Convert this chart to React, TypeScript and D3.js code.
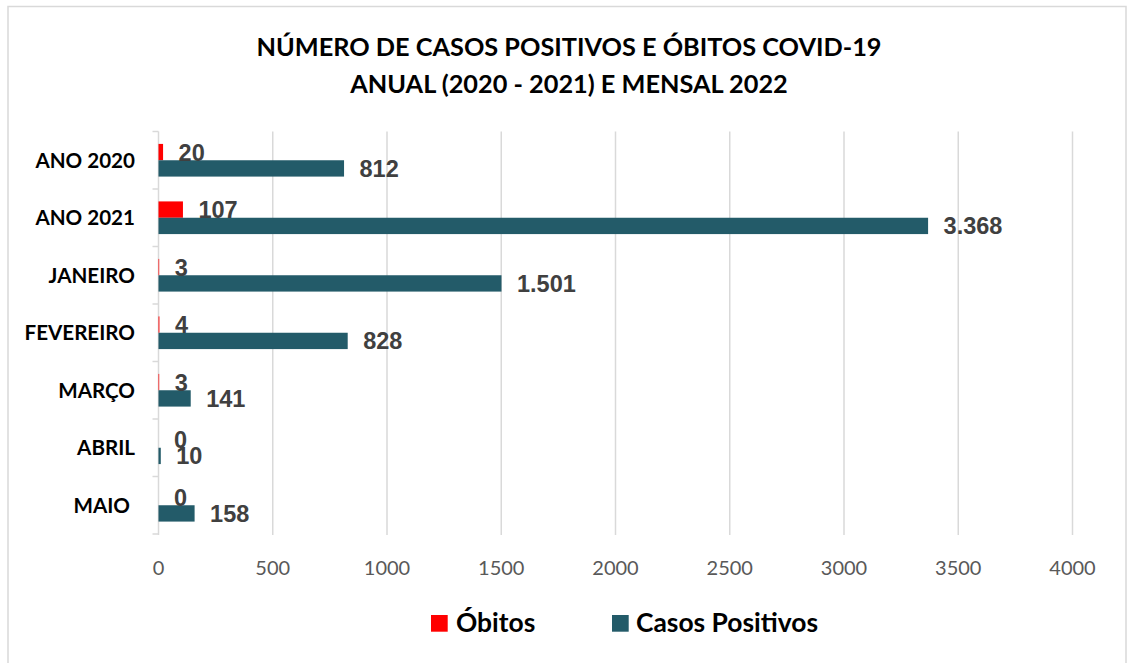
import React from "react";
import * as d3 from "d3";

// categories (top to bottom) and the two series
const categories = ["ANO 2020", "ANO 2021", "JANEIRO", "FEVEREIRO", "MARÇO", "ABRIL", "MAIO "];
const obitos = [20, 107, 3, 4, 3, 0, 0];
const casos = [812, 3368, 1501, 828, 141, 10, 158];
const xTicks = [0, 500, 1000, 1500, 2000, 2500, 3000, 3500, 4000];
const seriesNames = ["Óbitos", "Casos Positivos"];
const seriesColors = ["#FF0000", "#235B69"];

const W = 1130;
const H = 663;

const fmt = d3.formatLocale({ decimal: ",", thousands: ".", grouping: [3], currency: ["R$", ""] }).format(",d");

export default function App() {
  const x = d3.scaleLinear().domain([0, 4000]).range([158.5, 1072.5]);
  const y = d3.scaleBand().domain(categories).range([131.5, 534]).padding(0);
  const inner = d3
    .scaleBand()
    .domain(seriesNames)
    .range([0, y.bandwidth()])
    .paddingInner(0)
    .paddingOuter(0.76);

  const labelFont = "'Liberation Sans', Arial, sans-serif";
  const catFont = "Lato, 'Open Sans', sans-serif";
  const values = [obitos, casos];

  return (
    <svg width={W} height={H} style={{ position: "absolute", left: 0, top: 0, background: "#fff" }}>
      {/* outer frame */}
      <rect x={8} y={6.5} width={1118} height={670} fill="#fff" stroke="#D9D9D9" strokeWidth={1.5} />

      {/* title */}
      <text x={569} y={56} textAnchor="middle" fontFamily={catFont} fontWeight="bold" fontSize={25.3} fill="#000">
        NÚMERO DE CASOS POSITIVOS E ÓBITOS COVID-19
      </text>
      <text x={569} y={93} textAnchor="middle" fontFamily={catFont} fontWeight="bold" fontSize={25.3} fill="#000">
        ANUAL (2020 - 2021) E MENSAL 2022
      </text>

      {/* gridlines */}
      {xTicks.slice(1).map((t) => (
        <line key={t} x1={x(t)} x2={x(t)} y1={131.5} y2={535} stroke="#D9D9D9" strokeWidth={1.5} />
      ))}

      {/* category axis */}
      <line x1={x(0)} x2={x(0)} y1={131.5} y2={535} stroke="#D9D9D9" strokeWidth={1.5} />
      {categories.map((c) => (
        <line key={"t" + c} x1={x(0) - 6} x2={x(0)} y1={y(c)!} y2={y(c)!} stroke="#D9D9D9" strokeWidth={1.5} />
      ))}
      <line x1={x(0) - 6} x2={x(0)} y1={534} y2={534} stroke="#D9D9D9" strokeWidth={1.5} />

      {/* x tick labels */}
      {xTicks.map((t) => (
        <text key={"l" + t} x={x(t)} y={575} textAnchor="middle" fontFamily={catFont} fontSize={20} fill="#595959">
          {t}
        </text>
      ))}

      {/* category labels */}
      {categories.map((c) => (
        <text
          key={"c" + c}
          x={135}
          y={y(c)! + y.bandwidth() / 2}
          dy="0.36em"
          textAnchor="end"
          fontFamily={catFont}
          fontWeight="bold"
          fontSize={20.6}
          fill="#000"
          style={{ whiteSpace: "pre" }}
        >
          {c}
        </text>
      ))}

      {/* bars */}
      {seriesNames.map((s, si) =>
        categories.map((c, i) => {
          const v = values[si][i];
          const by = y(c)! + inner(s)!;
          return (
            <rect
              key={s + c}
              x={x(0)}
              y={by}
              width={x(v) - x(0)}
              height={inner.bandwidth()}
              fill={seriesColors[si]}
            />
          );
        })
      )}
      {/* value labels */}
      {seriesNames.map((s, si) =>
        categories.map((c, i) => {
          const v = values[si][i];
          const by = y(c)! + inner(s)!;
          return (
            <text
              key={"v" + s + c}
              x={x(v) + 15.5}
              y={by + inner.bandwidth() / 2}
              dy="0.36em"
              fontFamily={labelFont}
              fontWeight="bold"
              fontSize={23.5}
              fill="#404040"
            >
              {fmt(v)}
            </text>
          );
        })
      )}

      {/* legend */}
      <rect x={431} y={615} width={16.7} height={16.7} fill={seriesColors[0]} />
      <text x={456} y={632} fontFamily={catFont} fontWeight="bold" fontSize={26.4} fill="#000">
        {seriesNames[0]}
      </text>
      <rect x={612} y={615} width={16.7} height={16.7} fill={seriesColors[1]} />
      <text x={636} y={632} fontFamily={catFont} fontWeight="bold" fontSize={26.4} fill="#000">
        {seriesNames[1]}
      </text>
    </svg>
  );
}
